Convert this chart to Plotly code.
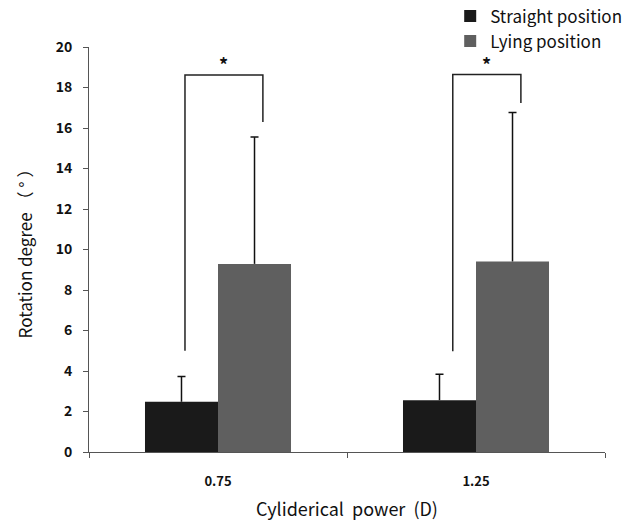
import plotly.graph_objects as go

categories = ["0.75", "1.25"]
straight_mean = [2.48, 2.56]
straight_sd = [1.25, 1.28]
lying_mean = [9.29, 9.41]
lying_sd = [6.26, 7.36]
y_ticks = [0, 2, 4, 6, 8, 10, 12, 14, 16, 18, 20]

# significance brackets: (left x offset, right x offset, left bottom, top, right bottom)
brackets = [
    (-0.128, 0.174, 5.0, 18.62, 16.3),
    (-0.09, 0.174, 4.98, 18.64, 17.24),
]

FONT = "Noto Sans CJK KR"
BARGAP = 0.434
HALF = (1 - BARGAP) / 4  # offset of each bar center from category center

fig = go.Figure()
fig.add_trace(go.Bar(
    x=categories, y=straight_mean, name="Straight position",
    marker=dict(color="#1a1a1a", line=dict(width=0)),
    error_y=dict(type="data", symmetric=False, array=straight_sd,
                 arrayminus=[0, 0], color="#111111", thickness=1.5, width=0),
))
fig.add_trace(go.Bar(
    x=categories, y=lying_mean, name="Lying position",
    marker=dict(color="#5f5f5f", line=dict(width=0)),
    error_y=dict(type="data", symmetric=False, array=lying_sd,
                 arrayminus=[0, 0], color="#111111", thickness=1.5, width=0),
))

# error bar caps (only at the top)
for means, sds, sign in [(straight_mean, straight_sd, -1), (lying_mean, lying_sd, 1)]:
    fig.add_trace(go.Scatter(
        x=[i + sign * HALF for i in range(len(categories))],
        y=[m + s for m, s in zip(means, sds)],
        xaxis="x2", mode="markers", marker=dict(size=1, opacity=0),
        error_y=dict(type="data", array=[0, 0], arrayminus=[0, 0],
                     color="#111111", thickness=1.5, width=4),
        showlegend=False, hoverinfo="skip"))

for i, (lx, rx, lb, top, rb) in enumerate(brackets):
    xs = [i + lx, i + lx, i + rx, i + rx]
    ys = [lb, top, top, rb]
    fig.add_trace(go.Scatter(x=xs, y=ys, mode="lines", xaxis="x2",
                             line=dict(color="#222222", width=1.5),
                             showlegend=False, hoverinfo="skip"))
    fig.add_annotation(x=i + (lx + rx) / 2, y=top, xref="x2", yref="y",
                       text="<b>*</b>", showarrow=False, yanchor="bottom",
                       font=dict(size=18, color="#111111", family=FONT), yshift=-4)

fig.update_layout(
    width=636, height=524,
    margin=dict(l=89, r=31, t=47, b=72, autoexpand=False),
    paper_bgcolor="white", plot_bgcolor="white",
    barmode="group", bargap=BARGAP, bargroupgap=0,
    font=dict(family=FONT, color="#111111"),
    showlegend=True,
    legend=dict(x=0.70, y=1.12, xanchor="left", yanchor="top",
                font=dict(size=17, color="#111111"), tracegroupgap=0,
                itemwidth=30, bgcolor="rgba(0,0,0,0)"),
    xaxis=dict(
        type="category", showline=True, linecolor="#555555", linewidth=1,
        ticks="outside", tickson="boundaries", ticklen=5, tickcolor="#555555",
        tickfont=dict(size=13, color="#111111", weight=600),
        ticklabelstandoff=17,
        title=dict(text="Cyliderical  power  (D)", font=dict(size=18, color="#111111"), standoff=14),
        showgrid=False, zeroline=False,
    ),
    xaxis2=dict(range=[-0.5, 1.5], overlaying="x", visible=False),
    yaxis=dict(
        range=[0, 20], tickvals=y_ticks, showline=True, linecolor="#555555",
        linewidth=1, ticks="outside", ticklen=5, tickcolor="#555555",
        tickfont=dict(size=14, color="#111111", weight=600),
        ticklabelstandoff=8,
        title=dict(text="Rotation degree （ ° ）", font=dict(size=17, color="#111111"), standoff=18),
        showgrid=False, zeroline=False,
    ),
)

fig.write_html("out.html")
